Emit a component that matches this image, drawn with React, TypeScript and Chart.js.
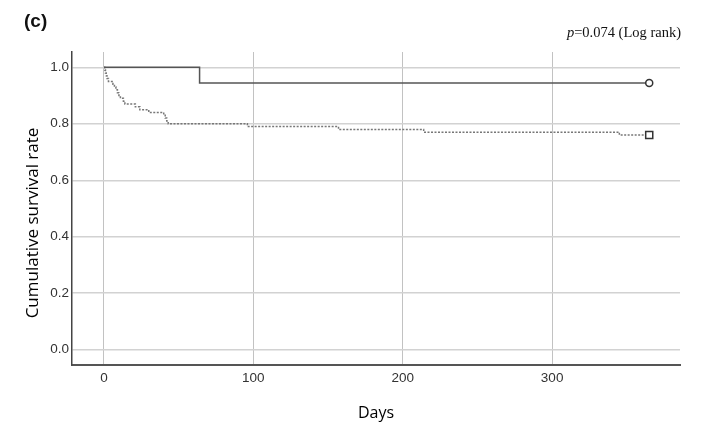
import React, { useEffect, useRef } from "react";
import { Chart, registerables } from "chart.js";

Chart.register(...registerables);

const W = 727;
const H = 427;

// Group A (solid line) – Kaplan-Meier steps
const groupADays = [0, 64, 365];
const groupASurv = [1.0, 0.944, 0.944];

// Group B (dashed line) – Kaplan-Meier steps
const groupBDays = [0, 0.5, 1, 1.5, 2, 3, 6, 7, 8, 9, 10, 11, 13, 14, 21, 24, 30, 40, 41, 42, 43, 96, 157, 214, 345, 365];
const groupBSurv = [1.0, 0.99, 0.98, 0.97, 0.96, 0.95, 0.94, 0.93, 0.92, 0.91, 0.9, 0.89, 0.88, 0.87, 0.86, 0.85, 0.84, 0.83, 0.82, 0.81, 0.8, 0.79, 0.78, 0.77, 0.76, 0.76];

const xTicks = [0, 100, 200, 300];
const yTicks = [0, 0.2, 0.4, 0.6, 0.8, 1.0];

const panelLabel = "(c)";
const pLabelItalic = "p";
const pLabelRest = "=0.074 (Log rank)";
const xTitle = "Days";
const yTitle = "Cumulative survival rate";

const X_MIN = -21.4;
const X_MAX = 385.6;
const Y_MIN = -0.054;
const Y_MAX = 1.054;

const tickFont = { family: '"Liberation Sans Narrow", "Liberation Sans", Arial, sans-serif', size: 13.5 };

const textPlugin = {
  id: "extraText",
  afterDraw(chart: any) {
    const ctx = chart.ctx as CanvasRenderingContext2D;
    const area = chart.chartArea;
    ctx.save();
    ctx.fillStyle = "#111";
    // panel label
    ctx.font = 'bold 19px "Liberation Sans", Arial, sans-serif';
    ctx.textAlign = "left";
    ctx.textBaseline = "middle";
    ctx.fillText(panelLabel, 24, 22);
    // p-value
    ctx.textBaseline = "alphabetic";
    ctx.font = '14.5px "Liberation Serif", "Times New Roman", serif';
    const wRest = ctx.measureText(pLabelRest).width;
    const right = area.right + 1;
    ctx.fillText(pLabelRest, right - wRest, 37);
    ctx.font = 'italic 14.5px "Liberation Serif", "Times New Roman", serif';
    const wP = ctx.measureText(pLabelItalic).width;
    ctx.fillText(pLabelItalic, right - wRest - wP, 37);
    // axis titles
    ctx.fillStyle = "#000";
    ctx.font = '16px "Open Sans", sans-serif';
    ctx.textAlign = "center";
    ctx.textBaseline = "middle";
    ctx.fillText(xTitle, (area.left + area.right) / 2, 413);
    ctx.font = '17px "Open Sans", sans-serif';
    ctx.translate(33, 223);
    ctx.rotate(-Math.PI / 2);
    ctx.fillText(yTitle, 0, 0);
    ctx.restore();
  },
};

export default function App() {
  const ref = useRef<HTMLCanvasElement>(null);
  useEffect(() => {
    const lastA = groupADays.length - 1;
    const lastB = groupBDays.length - 1;
    const chart = new Chart(ref.current!, {
      type: "line",
      data: {
        datasets: [
          {
            label: "Group A",
            data: groupADays.map((d, i) => ({ x: d, y: groupASurv[i] })),
            stepped: true,
            borderColor: "#555",
            borderWidth: 1.5,
            fill: false,
            pointStyle: "circle",
            pointRadius: (c: any) => (c.dataIndex === lastA ? 3.5 : 0),
            pointBackgroundColor: "#fff",
            pointBorderColor: "#333",
            pointBorderWidth: 1.5,
          },
          {
            label: "Group B",
            data: groupBDays.map((d, i) => ({ x: d, y: groupBSurv[i] })),
            stepped: true,
            borderColor: "#777",
            borderWidth: 1.5,
            borderDash: [2, 1.5],
            fill: false,
            pointStyle: "rect",
            pointRadius: (c: any) => (c.dataIndex === lastB ? 5 : 0),
            pointBackgroundColor: "#fff",
            pointBorderColor: "#333",
            pointBorderWidth: 1.5,
          },
        ],
      },
      options: {
        responsive: false,
        animation: false,
        devicePixelRatio: 1,
        events: [],
        layout: { padding: { top: 52, right: 47, left: 0, bottom: 0 } },
        plugins: { legend: { display: false }, tooltip: { enabled: false }, title: { display: false } },
        scales: {
          x: {
            type: "linear",
            min: X_MIN,
            max: X_MAX,
            afterBuildTicks: (s: any) => {
              s.ticks = xTicks.map((v) => ({ value: v }));
            },
            afterFit: (s: any) => {
              s.height = 62;
            },
            grid: { color: "#c2c2c2", lineWidth: 1, drawTicks: false },
            border: { color: "#555", width: 2 },
            ticks: { padding: 5, font: tickFont, color: "#333", callback: (v: any) => String(v) },
          },
          y: {
            type: "linear",
            min: Y_MIN,
            max: Y_MAX,
            afterBuildTicks: (s: any) => {
              s.ticks = yTicks.map((v) => ({ value: v }));
            },
            afterFit: (s: any) => {
              s.width = 72;
            },
            grid: { color: "#d2d2d2", lineWidth: 1.5, drawTicks: false },
            border: { color: "#444", width: 1.5 },
            ticks: { padding: 3, font: tickFont, color: "#333", callback: (v: any) => Number(v).toFixed(1) },
          },
        },
      },
      plugins: [textPlugin],
    } as any);
    return () => chart.destroy();
  }, []);
  return (
    <div style={{ position: "absolute", left: 0, top: 0, width: W, height: H, background: "#fff" }}>
      <canvas ref={ref} width={W} height={H} style={{ display: "block" }} />
    </div>
  );
}
